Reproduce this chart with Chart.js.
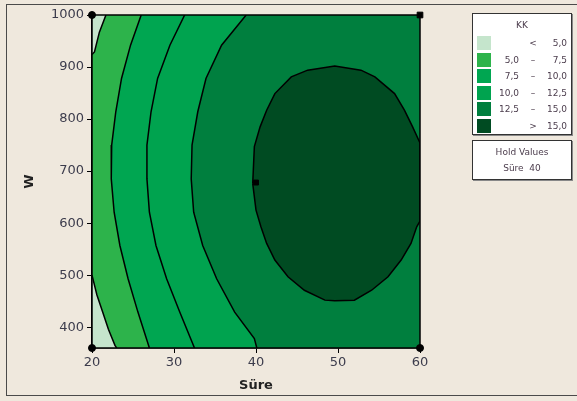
<!DOCTYPE html>
<html>
<head>
<meta charset="utf-8">
<title>KK contour plot</title>
<script src="https://cdn.jsdelivr.net/npm/chart.js@4.4.1/dist/chart.umd.min.js"></script>
<style>
    html, body { margin: 0; padding: 0; background: #efe8dd; }
    body { width: 577px; height: 401px; position: relative; overflow: hidden; font-family: "DejaVu Sans", sans-serif; }
    #frame { position: absolute; left: 6px; top: 4px; width: 600px; height: 392px; border: 1px solid #4a4a4a; box-sizing: border-box; }
    #plotWrap { position: absolute; left: 0; top: 0; width: 577px; height: 401px; }
    .box { position: absolute; background: #fff; border: 1px solid #333; box-shadow: 1px 1px 0 #888; color: #4b3c4c; font-size: 9px; box-sizing: border-box; }
    #legend { left: 472px; top: 13px; width: 100px; height: 122px; }
    #legend .title { position: absolute; left: 0; width: 100%; top: 6px; text-align: center; }
    #legend .row { position: absolute; left: 0; width: 100%; height: 14px; }
    #legend .sw { position: absolute; left: 4px; top: 0; width: 14px; height: 14px; }
    #legend .lo { position: absolute; right: 52px; top: 2px; text-align: right; }
    #legend .dash { position: absolute; left: 55px; top: 2px; width: 10px; text-align: center; }
    #legend .hi { position: absolute; right: 4px; top: 2px; text-align: right; }
    #hold { left: 472px; top: 140px; width: 100px; height: 40px; text-align: center; }
    #hold div { position: absolute; left: 0; width: 100%; }
</style>
</head>
<body>
<div id="frame"></div>
<div id="plotWrap"><canvas id="kkChart" width="577" height="401"></canvas></div>
<div id="legend" class="box"><div class="title">KK</div></div>
<div id="hold" class="box">
    <div style="top:6px">Hold Values</div>
    <div style="top:22px">Süre&nbsp;&nbsp;40</div>
</div>
<script>
// axis ranges and ticks
const sureRange = [20, 60];
const wRange = [360, 1000];
const sureTicks = [20, 30, 40, 50, 60];
const wTicks = [400, 500, 600, 700, 800, 900, 1000];

// legend bands (lowest first) and their colours
const bandLabels = [['', '<', '5,0'], ['5,0', '–', '7,5'], ['7,5', '–', '10,0'], ['10,0', '–', '12,5'], ['12,5', '–', '15,0'], ['', '>', '15,0']];
const bandColors = ['#c5e5cc', '#2db34b', '#00a651', '#00a34f', '#007f3e', '#004b22'];

// contour lines as [Süre, W], top edge to bottom edge
const kk50Top = [[21.7, 1000], [20.9, 967], [20.3, 929], [20, 924]];
const kk50Bottom = [[20, 500], [20.6, 462], [21.3, 429], [22.0, 396], [22.8, 365], [23.0, 360]];
const kk75 = [[26.0, 1000], [24.7, 942], [23.6, 878], [22.9, 814], [22.4, 750], [22.35, 685], [22.7, 621], [23.4, 557], [24.4, 493], [25.6, 429], [27.0, 360]];
const kk100 = [[31.3, 1000], [29.5, 942], [28.0, 878], [27.2, 814], [26.7, 750], [26.7, 685], [27.0, 621], [27.8, 557], [29.1, 493], [30.7, 429], [32.5, 360]];
const kk125 = [[38.8, 1000], [35.8, 942], [33.9, 878], [32.9, 814], [32.2, 750], [32.1, 685], [32.4, 621], [33.5, 557], [35.2, 493], [37.4, 429], [39.8, 378], [40.1, 360]];
// closed 15,0 contour, cut by the right edge
const kk150 = [[39.6, 676], [39.8, 747], [40.5, 785], [41.3, 817], [42.3, 849], [44.3, 881], [46.3, 894], [49.6, 902], [52.8, 894], [54.5, 881],
               [56.9, 849], [58.1, 817], [59.1, 785], [60, 754], [60, 604], [59.6, 593], [58.9, 561], [57.7, 529], [56.1, 497], [54.1, 471],
               [52.0, 452], [49.6, 451], [48.4, 452], [45.9, 471], [43.9, 497], [42.3, 529], [41.3, 561], [40.6, 593], [40.0, 625], [39.6, 676]];

// design points
const designSure = [20, 20, 60, 60, 40];
const designW = [1000, 360, 360, 1000, 678];
const designStyle = ['circle', 'circle', 'circle', 'rect', 'rect'];

const toXY = pts => pts.map(([x, y]) => ({ x: x, y: y }));

// right-hand corners close each band polygon
const rightEdge = [[sureRange[1], wRange[0]], [sureRange[1], wRange[1]]];

const bandShapes = [
    kk50Top.concat(kk50Bottom, rightEdge),
    kk75.concat(rightEdge),
    kk100.concat(rightEdge),
    kk125.concat(rightEdge),
    kk150
];

function buildLegend() {
    const legend = document.getElementById('legend');
    bandLabels.forEach((lab, i) => {
        const row = document.createElement('div');
        row.className = 'row';
        row.style.top = (22 + i * 16.6) + 'px';
        row.innerHTML = `
            <div class="sw" style="background:${bandColors[i]}"></div>
            <span class="lo">${lab[0]}</span>
            <span class="dash">${lab[1]}</span>
            <span class="hi">${lab[2]}</span>`;
        legend.appendChild(row);
    });
}

// lowest band fills the plot area, black frame goes round it
const plotArea = {
    id: 'plotArea',
    beforeDatasetsDraw(chart) {
        const { ctx, chartArea: a } = chart;
        ctx.save();
        ctx.fillStyle = bandColors[0];
        ctx.fillRect(a.left, a.top, a.width, a.height);
        ctx.restore();
    },
    afterDatasetsDraw(chart) {
        const { ctx, chartArea: a } = chart;
        ctx.save();
        ctx.strokeStyle = '#000';
        ctx.lineWidth = 1.5;
        ctx.strokeRect(a.left, a.top, a.width, a.height);
        ctx.restore();
    }
};

let kkChart;

function initializeChart() {
    const datasets = [];

    // design points on top
    datasets.push({
        data: designSure.map((x, i) => ({ x: x, y: designW[i] })),
        pointStyle: designStyle,
        pointRadius: [3.5, 3.5, 3.5, 4, 3.5],
        backgroundColor: '#000',
        borderColor: '#000',
        showLine: false,
        clip: false
    });

    [kk50Top, kk50Bottom, kk75, kk100, kk125, kk150].forEach(line => {
        datasets.push({
            data: toXY(line),
            borderColor: '#000',
            borderWidth: 1.5,
            pointRadius: 0,
            fill: false
        });
    });

    // highest band first so the lower bands end up underneath
    for (let i = bandShapes.length - 1; i >= 0; i--) {
        datasets.push({
            data: toXY(bandShapes[i]),
            borderColor: 'transparent',
            borderWidth: 0,
            backgroundColor: bandColors[i + 1],
            pointRadius: 0,
            fill: 'shape'
        });
    }

    const tickFont = { family: 'DejaVu Sans', size: 13 };
    const titleFont = { family: 'DejaVu Sans', size: 13, weight: 'bold' };

    kkChart = new Chart(document.getElementById('kkChart'), {
        type: 'line',
        data: { datasets: datasets },
        options: {
            responsive: false,
            animation: false,
            events: [],
            layout: { padding: { left: 0, top: 15, right: 157, bottom: 0 } },
            plugins: {
                legend: { display: false },
                tooltip: { enabled: false }
            },
            scales: {
                x: {
                    type: 'linear',
                    min: sureRange[0],
                    max: sureRange[1],
                    afterBuildTicks: s => { s.ticks = sureTicks.map(v => ({ value: v })); },
                    afterFit: s => { s.height = 53; },
                    grid: { drawOnChartArea: false, tickLength: 5, color: '#000' },
                    border: { color: '#000', width: 1.5 },
                    ticks: { font: tickFont, color: '#3c3c4c', padding: 2, maxRotation: 0, callback: v => String(v) },
                    title: { display: true, text: 'Süre', font: titleFont, color: '#222', padding: { top: 0, bottom: 8 } }
                },
                y: {
                    type: 'linear',
                    min: wRange[0],
                    max: wRange[1],
                    afterBuildTicks: s => { s.ticks = wTicks.map(v => ({ value: v })); },
                    afterFit: s => { s.width = 92; },
                    grid: { drawOnChartArea: false, tickLength: 5, color: '#000' },
                    border: { color: '#000', width: 1.5 },
                    ticks: { font: tickFont, color: '#3c3c4c', padding: 3, callback: v => String(v) },
                    title: { display: true, text: 'W', font: titleFont, color: '#222', padding: { top: 22, bottom: 0 } }
                }
            }
        },
        plugins: [plotArea]
    });
}

buildLegend();
initializeChart();
</script>
</body>
</html>
